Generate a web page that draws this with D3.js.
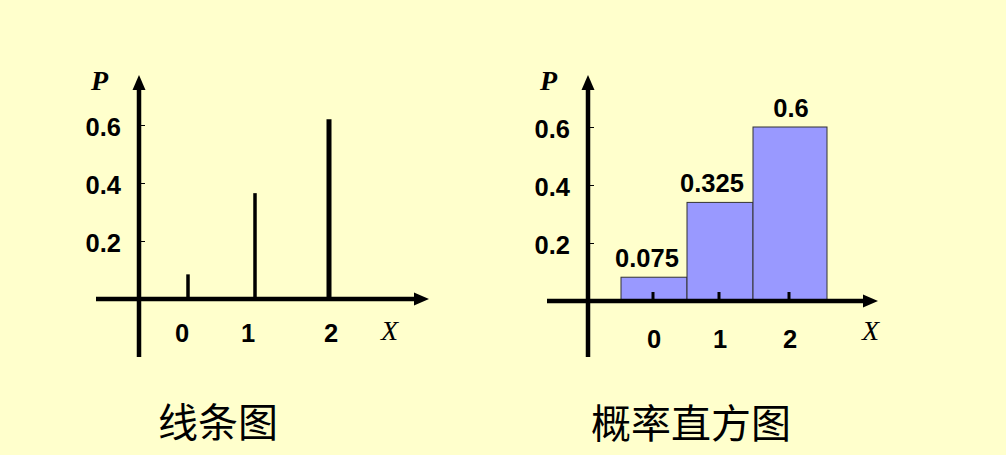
<!DOCTYPE html>
<html><head><meta charset="utf-8">
<script src="https://cdn.jsdelivr.net/npm/d3@7"></script>
<style>html,body{margin:0;padding:0;background:#ffffcc;}svg{display:block;}</style>
</head><body>
<script>
// ---- data ----
const categories = [0, 1, 2];
const lineValues = [0.085, 0.365, 0.62];        // heights as drawn in 线条图
const histValues = [0.082, 0.34, 0.6];          // heights as drawn in 概率直方图
const histLabels = ["0.075", "0.325", "0.6"];
const yTicks = [0.2, 0.4, 0.6];
const yTickLabels = ["0.2", "0.4", "0.6"];
const titles = ["线条图", "概率直方图"];

const W = 1006, H = 455;
const svg = d3.select("body").append("svg").attr("width", W).attr("height", H);
svg.append("rect").attr("width", W).attr("height", H).attr("fill", "#ffffcc");

const numFont = "'Liberation Sans', Arial, sans-serif";
const serif = "'Liberation Serif', 'Times New Roman', serif";
const numSize = 25.5;

function arrowAxes(g, ox, oy, xLeft, xRight, yTop, yBottom) {
  g.append("line").attr("x1", xLeft).attr("x2", xRight - 10).attr("y1", oy).attr("y2", oy)
    .attr("stroke", "#000").attr("stroke-width", 4.5);
  g.append("path").attr("d", `M${xRight},${oy} L${xRight-15},${oy-6.5} L${xRight-15},${oy+6.5} Z`).attr("fill", "#000");
  g.append("line").attr("x1", ox).attr("x2", ox).attr("y1", yBottom).attr("y2", yTop + 10)
    .attr("stroke", "#000").attr("stroke-width", 4.5);
  g.append("path").attr("d", `M${ox},${yTop} L${ox-6.5},${yTop+15} L${ox+6.5},${yTop+15} Z`).attr("fill", "#000");
}

function yAxisTicks(g, y, ox) {
  const ax = d3.axisRight(y).tickValues(yTicks).tickSize(6).tickFormat("");
  const ga = g.append("g").attr("transform", `translate(${ox},0)`).call(ax);
  ga.select(".domain").remove();
  ga.selectAll(".tick line").attr("stroke", "#000").attr("stroke-width", 1);
  g.selectAll(null).data(yTicks).join("text")
    .attr("x", ox - 18).attr("y", (d) => y(d) + 2)
    .attr("text-anchor", "end").attr("dominant-baseline", "central")
    .attr("font-family", numFont).attr("font-weight", "bold").attr("font-size", numSize)
    .attr("fill", "#000").text((d, i) => yTickLabels[i]);
}

function axisLabels(g, ox, pY, xLabelX, xLabelY) {
  g.append("text").attr("x", ox - 48).attr("y", pY).attr("font-family", serif)
    .attr("font-style", "italic").attr("font-weight", "bold").attr("font-size", 28).text("P");
  g.append("text").attr("x", xLabelX).attr("y", xLabelY).attr("font-family", serif)
    .attr("font-style", "italic").attr("font-size", 28).text("X");
}

// ---- left: line chart ----
{
  const g = svg.append("g");
  const ox = 139, oy = 299;
  const x = d3.scaleLinear().domain(categories).range([188, 255, 329]);
  const y = d3.scaleLinear().domain([0, 0.6]).range([oy, 125]);
  arrowAxes(g, ox, oy, 96, 429, 75, 357);
  yAxisTicks(g, y, ox);
  g.selectAll(null).data(categories).join("line")
    .attr("x1", (d) => x(d)).attr("x2", (d) => x(d))
    .attr("y1", oy).attr("y2", (d, i) => y(lineValues[i]))
    .attr("stroke", "#000").attr("stroke-width", (d, i) => i === 2 ? 5 : 3.5);
  g.selectAll(null).data(categories).join("text")
    .attr("x", (d, i) => x(d) + [-6, -7, 2][i]).attr("y", 333)
    .attr("text-anchor", "middle").attr("dominant-baseline", "central")
    .attr("font-family", numFont).attr("font-weight", "bold").attr("font-size", numSize)
    .text((d) => d);
  axisLabels(g, ox, 90, 381, 340);
  g.append("text").attr("x", 218).attr("y", 437).attr("text-anchor", "middle")
    .attr("font-family", "'Noto Sans CJK SC', sans-serif").attr("font-weight", 400)
    .attr("font-size", 40).text(titles[0]);
}

// ---- right: histogram ----
{
  const g = svg.append("g");
  const ox = 588, oy = 301;
  const x = d3.scaleLinear().domain([-0.5, 0.5, 1.5, 2.5]).range([621, 687, 753, 827]);
  const y = d3.scaleLinear().domain([0, 0.6]).range([oy, 127]);
  g.selectAll(null).data(categories).join("rect")
    .attr("x", (d) => x(d - 0.5)).attr("width", (d) => x(d + 0.5) - x(d - 0.5))
    .attr("y", (d, i) => y(histValues[i])).attr("height", (d, i) => oy - y(histValues[i]))
    .attr("fill", "#9999ff").attr("stroke", "#333").attr("stroke-width", 1);
  arrowAxes(g, ox, oy, 547, 878, 75, 357);
  yAxisTicks(g, y, ox);
  g.selectAll(null).data(categories).join("line")
    .attr("x1", (d) => x(d) - 1).attr("x2", (d) => x(d) - 1)
    .attr("y1", oy).attr("y2", oy - 9)
    .attr("stroke", "#000").attr("stroke-width", 3);
  g.selectAll(null).data(categories).join("text")
    .attr("x", (d) => x(d)).attr("y", 339)
    .attr("text-anchor", "middle").attr("dominant-baseline", "central")
    .attr("font-family", numFont).attr("font-weight", "bold").attr("font-size", numSize)
    .text((d) => d);
  g.selectAll(null).data(categories).join("text")
    .attr("x", (d, i) => x(d) + [-7, -8, 1][i]).attr("y", (d, i) => y(histValues[i]) - 19)
    .attr("text-anchor", "middle").attr("dominant-baseline", "central")
    .attr("font-family", numFont).attr("font-weight", "bold").attr("font-size", numSize)
    .text((d, i) => histLabels[i]);
  axisLabels(g, ox, 90, 862, 340);
  g.append("text").attr("x", 691).attr("y", 438).attr("text-anchor", "middle")
    .attr("font-family", "'Noto Sans CJK SC', sans-serif").attr("font-weight", 400)
    .attr("font-size", 40).text(titles[1]);
}
</script>
</body></html>
